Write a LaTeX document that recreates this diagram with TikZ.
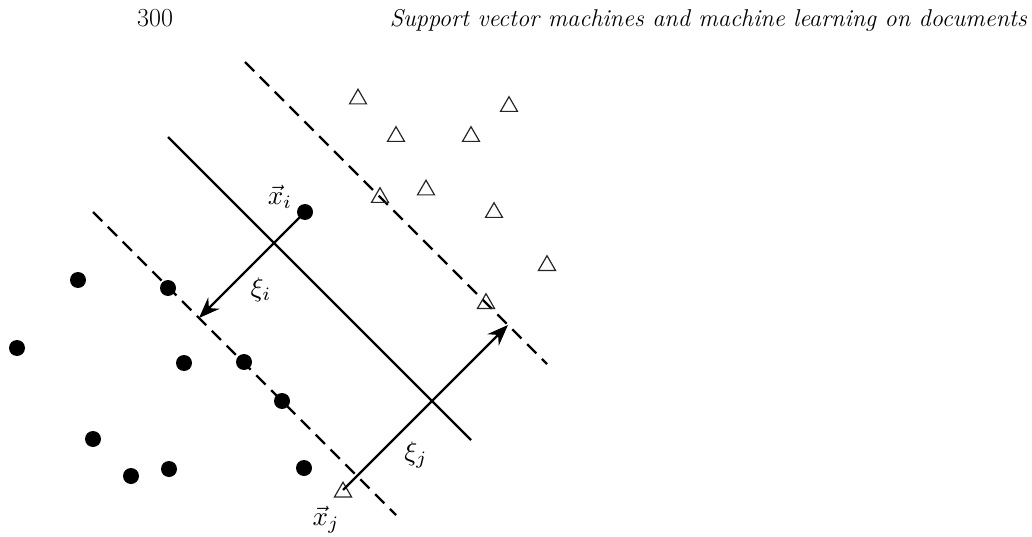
\documentclass[tikz,border=0pt]{standalone}
\usetikzlibrary{arrows.meta,shapes.geometric}
\begin{document}
\begin{tikzpicture}[x=1pt,y=-1pt,
  pt/.style={circle,fill=black,inner sep=0pt,minimum size=16pt},
  tri/.style={regular polygon,regular polygon sides=3,draw=black!85,line width=1.2pt,inner sep=0pt,minimum size=19.6pt},
  solidline/.style={line width=2.4pt},
  dashline/.style={line width=2.4pt,dash pattern=on 13pt off 8pt},
  slack/.style={line width=2.4pt,-{Stealth[length=21pt,width=16pt,inset=7pt]}},
  lab/.style={inner sep=0pt},
  hdr/.style={inner sep=0pt}
]
\useasboundingbox (0,0) rectangle (1032,537);
% header
\node[hdr,anchor=base west] (page) at (137,27) {\fontsize{26}{30}\selectfont 300};
\node[hdr,anchor=base east] (title) at (1027,27) {\resizebox{637pt}{!}{\fontsize{25}{30}\selectfont\itshape Support vector machines and machine learning on documents}};
% lines
\coordinate (h1) at (168,137); \coordinate (h2) at (471,440);
\coordinate (u1) at (245,62);  \coordinate (u2) at (547,364);
\coordinate (l1) at (93,212);  \coordinate (l2) at (396,515);
\draw[solidline] (h1) -- (h2);
\draw[dashline] (u1) -- (u2);
\draw[dashline] (l1) -- (l2);
% circles
\node[pt] (xi) at (305,212) {};
\node[pt] (c1) at (78,280) {};
\node[pt] (c2) at (168,288) {};
\node[pt] (c3) at (17,348) {};
\node[pt] (c4) at (184,363) {};
\node[pt] (c5) at (244,362) {};
\node[pt] (c6) at (282,401) {};
\node[pt] (c7) at (93,439) {};
\node[pt] (c8) at (131,476) {};
\node[pt] (c9) at (169,469) {};
\node[pt] (c10) at (304,468) {};
% triangles (centre = bbox centre + 2.5 down)
\node[tri] (t1) at (358,99) {};
\node[tri] (t2) at (509,106.5) {};
\node[tri] (t3) at (396,136.5) {};
\node[tri] (t4) at (471,136.5) {};
\node[tri] (t5) at (380,197.5) {};
\node[tri] (t6) at (426,190) {};
\node[tri] (t7) at (494,212.5) {};
\node[tri] (t8) at (547,265.5) {};
\node[tri] (t9) at (486,303.5) {};
\node[tri] (xj) at (343,492) {};
% slack arrows
\coordinate (fi) at (199,318);
\coordinate (fj) at (508,325);
\draw[slack] (xi.center) -- (fi);
\draw[slack] (343,490) -- (fj);
% labels
\node[lab] (lxi) at (280,197) {\scalebox{2.7}{$\vec{x}_i$}};
\node[lab] (lxii) at (261,290) {\scalebox{2.7}{$\xi_i$}};
\node[lab] (lxij) at (416,455) {\scalebox{2.7}{$\xi_j$}};
\node[lab] (lxj) at (326,520) {\scalebox{2.7}{$\vec{x}_j$}};
\end{tikzpicture}
\end{document}
